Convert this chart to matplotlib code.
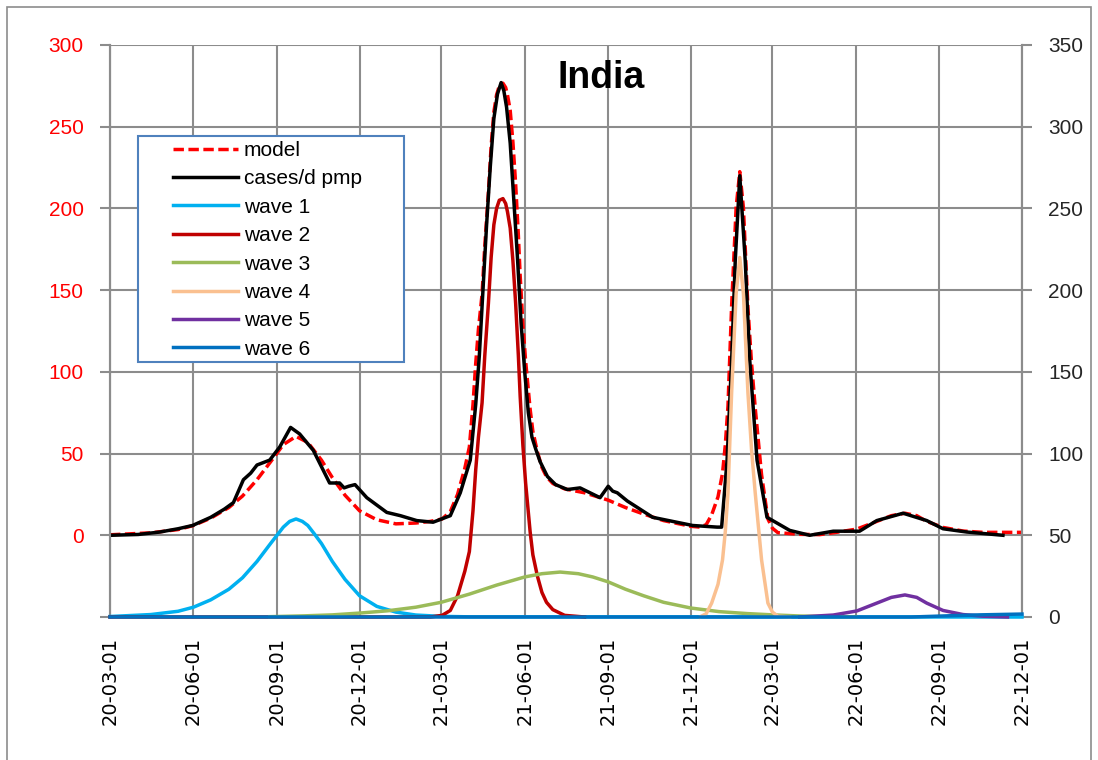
import matplotlib
matplotlib.use('Agg')
import matplotlib.pyplot as plt
import matplotlib.dates as mdates
from matplotlib.patches import Rectangle
import pandas as pd

plt.rcParams['font.family'] = ['Liberation Sans', 'DejaVu Sans']

# daily cases per million (left axis)
cases_dates = ['2020-03-01', '2020-04-01', '2020-04-25', '2020-05-15', '2020-05-31', '2020-06-20',
               '2020-07-05', '2020-07-15', '2020-07-26', '2020-08-03', '2020-08-10', '2020-08-24',
               '2020-09-04', '2020-09-16', '2020-09-26', '2020-10-11', '2020-10-29', '2020-11-09',
               '2020-11-14', '2020-11-19', '2020-11-26', '2020-12-09', '2020-12-31', '2021-01-15',
               '2021-02-02', '2021-02-20', '2021-03-11', '2021-03-22', '2021-04-02', '2021-04-08',
               '2021-04-12', '2021-04-16', '2021-04-20', '2021-04-24', '2021-04-28', '2021-05-02',
               '2021-05-06', '2021-05-09', '2021-05-12', '2021-05-16', '2021-05-20', '2021-05-24',
               '2021-05-28', '2021-06-01', '2021-06-05', '2021-06-09', '2021-06-13', '2021-06-18',
               '2021-06-26', '2021-07-05', '2021-07-18', '2021-08-01', '2021-08-23', '2021-09-01',
               '2021-09-06', '2021-09-11', '2021-09-22', '2021-10-20', '2021-12-03', '2021-12-30',
               '2022-01-04', '2022-01-10', '2022-01-15', '2022-01-19', '2022-01-24', '2022-01-30',
               '2022-02-04', '2022-02-12', '2022-02-23', '2022-03-20', '2022-04-11', '2022-05-07',
               '2022-06-05', '2022-06-24', '2022-07-23', '2022-08-18', '2022-09-05', '2022-10-01',
               '2022-11-10']
cases = [0, 0.5, 2, 4, 6, 11,
         16, 20, 34, 38, 43, 46,
         54, 66, 62, 52, 32, 32,
         29, 30, 31, 23, 14, 12,
         9, 8, 12, 26, 46, 80,
         110, 150, 190, 225, 255, 270,
         277, 272, 262, 240, 205, 170,
         130, 100, 75, 60, 53, 45,
         36, 31, 28, 29, 23, 30,
         27, 26, 21, 11, 6, 5,
         5, 46, 107, 168, 220, 168,
         107, 46, 11, 3, 0, 2.5,
         2.5, 9, 13.5, 9, 4, 2,
         0]

# fitted model (left axis)
model_dates = ['2020-03-01', '2020-04-15', '2020-05-15', '2020-06-01', '2020-06-20', '2020-07-10',
               '2020-07-25', '2020-08-10', '2020-08-25', '2020-09-08', '2020-09-22', '2020-10-05',
               '2020-10-20', '2020-11-01', '2020-11-15', '2020-12-01', '2020-12-20', '2021-01-10',
               '2021-02-01', '2021-02-17', '2021-03-02', '2021-03-11', '2021-03-19', '2021-03-27',
               '2021-04-01', '2021-04-05', '2021-04-08', '2021-04-11', '2021-04-15', '2021-04-18',
               '2021-04-22', '2021-04-25', '2021-04-28', '2021-05-01', '2021-05-04', '2021-05-08',
               '2021-05-11', '2021-05-13', '2021-05-16', '2021-05-19', '2021-05-22', '2021-05-25',
               '2021-05-27', '2021-05-30', '2021-06-02', '2021-06-04', '2021-06-07', '2021-06-10',
               '2021-06-15', '2021-06-20', '2021-06-25', '2021-07-02', '2021-07-15', '2021-08-06',
               '2021-09-01', '2021-09-20', '2021-10-10', '2021-11-01', '2021-12-01', '2021-12-11',
               '2021-12-18', '2021-12-24', '2021-12-31', '2022-01-05', '2022-01-08', '2022-01-11',
               '2022-01-15', '2022-01-20', '2022-01-24', '2022-01-28', '2022-02-02', '2022-02-06',
               '2022-02-10', '2022-02-17', '2022-02-24', '2022-03-01', '2022-03-07', '2022-03-31',
               '2022-04-22', '2022-05-07', '2022-06-02', '2022-06-24', '2022-07-10', '2022-07-25',
               '2022-08-07', '2022-08-18', '2022-09-05', '2022-09-27', '2022-10-19', '2022-12-01']
model = [0.3, 1.5, 3.5, 6, 10.5, 17,
         24, 34, 45, 55.5, 60.5, 56.8,
         46, 35.3, 24.5, 15, 9.5, 7,
         7.5, 8.5, 10, 14.5, 25, 41,
         54, 80, 105, 126, 147.5, 177,
         210, 238, 259, 269.5, 275, 276.6,
         274, 269.5, 260, 240.5, 215, 183.5,
         158.8, 129, 106.6, 94.8, 77, 63.5,
         51, 41.5, 35.8, 31.7, 28.4, 26,
         21.5, 17, 13, 9, 5.5, 5,
         6.5, 12.5, 23.5, 38, 55, 79,
         140, 200.6, 222.5, 200.4, 139, 105,
         78, 37, 10, 4.3, 1.6, 0.6,
         0.4, 1.5, 3.8, 8.5, 12, 13.5,
         12, 8.5, 4.8, 2.6, 1.8, 1.8]

# individual waves (right axis)
wave1_dates = ['2020-03-01', '2020-04-15', '2020-05-15', '2020-06-01', '2020-06-20', '2020-07-10',
               '2020-07-25', '2020-08-10', '2020-08-25', '2020-09-08', '2020-09-15', '2020-09-22',
               '2020-09-29', '2020-10-05', '2020-10-12', '2020-10-20', '2020-11-01', '2020-11-15',
               '2020-12-01', '2020-12-20', '2021-01-10', '2021-02-01', '2021-03-01', '2021-04-01',
               '2022-12-01']
wave1 = [0.3, 1.5, 3.5, 6, 10.5, 17,
         24, 34, 45, 55, 58.5, 60,
         58.5, 56, 51, 45, 34, 23,
         13, 6.5, 3, 1.2, 0.4, 0.1,
         0]

wave2_dates = ['2020-03-01', '2021-02-17', '2021-03-02', '2021-03-11', '2021-03-19', '2021-03-27',
               '2021-04-01', '2021-04-05', '2021-04-08', '2021-04-11', '2021-04-15', '2021-04-18',
               '2021-04-22', '2021-04-25', '2021-04-28', '2021-05-01', '2021-05-04', '2021-05-08',
               '2021-05-11', '2021-05-13', '2021-05-16', '2021-05-19', '2021-05-22', '2021-05-25',
               '2021-05-27', '2021-05-30', '2021-06-02', '2021-06-04', '2021-06-07', '2021-06-10',
               '2021-06-15', '2021-06-20', '2021-06-25', '2021-07-02', '2021-07-15', '2021-08-06']
wave2 = [0, 0, 1, 4, 13, 28,
         40, 65, 90, 110, 131, 160,
         192, 220, 240, 250, 255, 256,
         253, 248, 238, 218, 192, 160,
         135, 105, 82, 70, 52, 38,
         25, 15, 9, 4.5, 1, 0]

wave3_dates = ['2020-08-24', '2020-10-01', '2020-11-01', '2020-12-01', '2021-01-01', '2021-02-01',
               '2021-03-01', '2021-04-01', '2021-05-01', '2021-06-01', '2021-06-20', '2021-07-10',
               '2021-07-30', '2021-08-15', '2021-09-01', '2021-09-20', '2021-10-10', '2021-11-01',
               '2021-12-01', '2022-01-01', '2022-02-01', '2022-03-01', '2022-04-01', '2022-05-01',
               '2022-06-01']
wave3 = [0.2, 0.7, 1.3, 2.4, 3.8, 6,
         9, 14, 19.5, 24.5, 26.5, 27.5,
         26.5, 24.5, 21.5, 17, 13, 9,
         5.5, 3.3, 2.1, 1.3, 0.6, 0.3,
         0.1]

wave4_dates = ['2021-12-11', '2021-12-18', '2021-12-24', '2021-12-31', '2022-01-05', '2022-01-08',
               '2022-01-11', '2022-01-15', '2022-01-20', '2022-01-24', '2022-01-28', '2022-02-02',
               '2022-02-06', '2022-02-10', '2022-02-17', '2022-02-24', '2022-03-01', '2022-03-07',
               '2022-03-20']
wave4 = [0, 2, 8.5, 20, 35, 52,
         76, 137, 198, 220, 198, 137,
         102, 76, 35, 8.5, 3, 0.5,
         0]

wave5_dates = ['2022-03-31', '2022-05-07', '2022-06-02', '2022-06-24', '2022-07-10', '2022-07-25',
               '2022-08-07', '2022-08-18', '2022-09-05', '2022-09-27', '2022-10-19', '2022-11-15']
wave5 = [0, 1.2, 3.7, 8.5, 12, 13.5,
         12, 8.5, 4, 1.5, 0.5, 0]

wave6_dates = ['2020-03-01', '2022-08-01', '2022-09-15', '2022-10-15', '2022-12-01']
wave6 = [0, 0, 0.8, 1.3, 1.8]

xtick_dates = pd.date_range('2020-03-01', '2022-12-01', freq='3MS')
left_ticks = [-50, 0, 50, 100, 150, 200, 250, 300]
right_ticks = [0, 50, 100, 150, 200, 250, 300, 350]

grid_col = '#8c8c8c'
line_w = 2.5

fig = plt.figure(figsize=(10.98, 7.6), dpi=100)
ax = fig.add_axes([110 / 1098, 1 - 617 / 760, 912 / 1098, 572 / 760])
ax2 = ax.twinx()

ax.plot(pd.to_datetime(model_dates), model, color='#ff0000', lw=line_w, dashes=(3.0, 1.3),
        label='model', zorder=3)
ax.plot(pd.to_datetime(cases_dates), cases, color='black', lw=line_w, label='cases/d pmp',
        zorder=4, solid_joinstyle='round')

wave_series = [(wave1_dates, wave1, '#00b0f0'), (wave2_dates, wave2, '#c00000'),
               (wave3_dates, wave3, '#9bbb59'), (wave4_dates, wave4, '#fac090'),
               (wave5_dates, wave5, '#7030a0'), (wave6_dates, wave6, '#0070c0')]
for i, (d, v, c) in enumerate(wave_series):
    # waves sit on the axis floor, so let the full line width show over the spine
    ax2.plot(pd.to_datetime(d), v, color=c, lw=line_w, label='wave %d' % (i + 1),
             solid_joinstyle='round', clip_on=False, zorder=3)

ax.set_xlim(pd.Timestamp('2020-03-01'), pd.Timestamp('2022-12-01'))
ax.set_ylim(-50, 300)
ax2.set_ylim(0, 350)
ax.set_yticks(left_ticks)
ax.set_yticklabels([''] + [str(t) for t in left_ticks[1:]])
ax2.set_yticks(right_ticks)
ax.set_xticks(xtick_dates)
ax.xaxis.set_major_formatter(mdates.DateFormatter('%y-%m-%d'))
for lbl in ax.get_xticklabels():
    lbl.set_family('DejaVu Sans')

ax.tick_params(axis='x', length=0, pad=14, labelsize=14, labelrotation=90, colors='black')
ax.tick_params(axis='y', length=7, width=1.5, color=grid_col, pad=12, labelsize=15,
               labelcolor='#ff0000')
ax2.tick_params(axis='y', length=7, width=1.5, color=grid_col, pad=12, labelsize=15,
                labelcolor='#262626')

ax.grid(True, color=grid_col, lw=1.5)
ax.set_axisbelow(True)
for a in (ax, ax2):
    a.spines['top'].set_visible(False)
    for s in ('left', 'right', 'bottom'):
        a.spines[s].set_color(grid_col)
        a.spines[s].set_linewidth(1.5)

ax2.text(0.538, 0.942, 'India', transform=ax.transAxes, ha='center', va='center',
         fontsize=27, fontweight='bold')

# legend with its own frame
frame = Rectangle((138 / 1098, 1 - 362 / 760), 266 / 1098, 226 / 760, transform=fig.transFigure,
                  facecolor='white', edgecolor='#4f81bd', lw=1.5, zorder=6)
ax2.add_patch(frame)
h1, l1 = ax.get_legend_handles_labels()
h2, l2 = ax2.get_legend_handles_labels()
leg = ax2.legend(h1 + h2, l1 + l2, loc='upper left', bbox_to_anchor=(173 / 1098, 1 - 141 / 760),
                 bbox_transform=fig.transFigure, frameon=False, fontsize=15, handlelength=3.1,
                 handletextpad=0.3, labelspacing=0.45, borderpad=0, borderaxespad=0)
leg.set_zorder(7)

# outer border
fig.patches.append(Rectangle((7 / 1098, -0.05), 1084 / 1098, 1.05 - 7 / 760,
                             transform=fig.transFigure, fill=False, edgecolor='#8c8c8c', lw=1.2))

fig.savefig('out.png', dpi=100)
